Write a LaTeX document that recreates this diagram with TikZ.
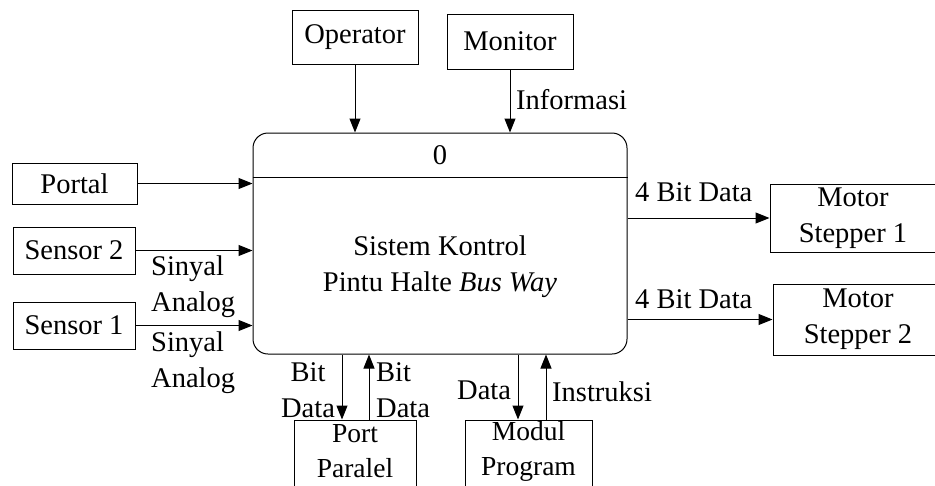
\documentclass[tikz,border=0pt]{standalone}
\usepackage{fontspec}
\setmainfont{Liberation Serif}
\usetikzlibrary{arrows.meta,calc}
\begin{document}
\begin{tikzpicture}[x=1pt,y=-1pt,
  every node/.style={font=\fontsize{28.5}{36}\selectfont},
  ent/.style={draw,line width=1pt,inner sep=0pt,align=center},
  lbl/.style={inner sep=0pt},
  flow/.style={line width=1pt,-{Triangle[length=14pt,width=11pt]}}]
\useasboundingbox (0,0) rectangle (935,485);
% process
\node[draw,line width=1pt,rounded corners=15pt,minimum width=374pt,minimum height=221pt,inner sep=0pt] (proc) at (440,243.5) {};
\draw[line width=1pt] (proc.west |- 0,177) -- (proc.east |- 0,177);
\node[lbl] (num) at (440,155) {0};
\node[lbl,align=center] (ptitle) at (440,267) {Sistem Kontrol\\Pintu Halte \textit{Bus Way}};
% entities
\node[ent,minimum width=126pt,minimum height=54pt] (op) at (355,37) {Operator};
\node[ent,minimum width=126pt,minimum height=55pt] (mon) at (510,41.5) {Monitor};
\node[ent,minimum width=125pt,minimum height=41pt] (portal) at (74.5,183.5) {Portal};
\node[ent,minimum width=122pt,minimum height=47pt] (s2) at (74,250.5) {Sensor 2};
\node[ent,minimum width=122pt,minimum height=47pt] (s1) at (74,325.5) {Sensor 1};
\node[ent,minimum width=166pt,minimum height=68pt] (ms1) at (853,218) {Motor\\Stepper 1};
\node[ent,minimum width=170pt,minimum height=71pt] (ms2) at (858,319.5) {Motor\\Stepper 2};
\node[ent,minimum width=122pt,minimum height=70pt] (pp) at (355,455) {};
\node[ent,minimum width=127pt,minimum height=70pt] (mp) at (528.5,455) {};
\node[lbl,align=center,font=\fontsize{27.5}{35}\selectfont] (ppt) at (355,451.5) {Port\\Paralel};
\node[lbl,align=center,font=\fontsize{27.5}{35}\selectfont] (mpt) at (528.5,451.5) {Modul\\Program};
% flows
\draw[flow] (op.south) -- (op.south |- proc.north);
\draw[flow] (mon.south) -- (mon.south |- proc.north);
\draw[flow] (portal.east) -- (portal.east -| proc.west);
\draw[flow] (s2.east) -- (s2.east -| proc.west);
\draw[flow] (s1.east) -- (s1.east -| proc.west);
\draw[flow] (proc.east |- ms1.west) -- (ms1.west);
\draw[flow] (proc.east |- ms2.west) -- (ms2.west);
\draw[flow] ([xshift=-13pt]pp.north |- proc.south) -- ([xshift=-13pt]pp.north);
\draw[flow] ([xshift=14pt]pp.north) -- ([xshift=14pt]pp.north |- proc.south);
\draw[flow] ([xshift=-10.5pt]mp.north |- proc.south) -- ([xshift=-10.5pt]mp.north);
\draw[flow] ([xshift=17.5pt]mp.north) -- ([xshift=17.5pt]mp.north |- proc.south);
% labels
\node[lbl,anchor=west] (linfo) at (516,100) {Informasi};
\node[lbl,anchor=west,align=left] (lsa2) at (151,287) {Sinyal\\Analog};
\node[lbl,anchor=west,align=left] (lsa1) at (151,363) {Sinyal\\Analog};
\node[lbl,anchor=west] (l4a) at (635,192) {4 Bit Data};
\node[lbl,anchor=west] (l4b) at (635,299) {4 Bit Data};
\node[lbl,align=center] (lbd1) at (308,390) {Bit\\Data};
\node[lbl,anchor=west,align=left] (lbd2) at (376,390) {Bit\\Data};
\node[lbl,anchor=west] (ldata) at (457,390) {Data};
\node[lbl,anchor=west] (linst) at (552,392) {Instruksi};
\end{tikzpicture}
\end{document}
